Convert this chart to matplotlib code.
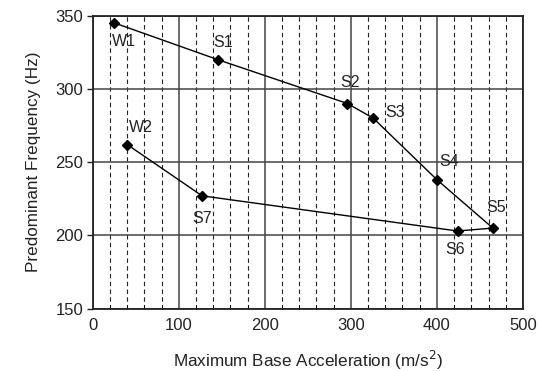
import matplotlib.pyplot as plt
from matplotlib.ticker import MultipleLocator

plt.rcParams['font.family'] = ['Liberation Sans', 'DejaVu Sans']

# Test points in path order
labels = ['W1', 'S1', 'S2', 'S3', 'S4', 'S5', 'S6', 'S7', 'W2']
accel = [25, 145, 296, 326, 400, 465, 424, 127, 40]
freq = [345, 320, 290, 280, 238, 205, 203, 227, 262]
# label offsets in points
offsets = [(7, -13.5), (4, 12.5), (2, 15), (16, 4), (9, 13), (2, 15), (-2, -13), (0, -16), (10, 12)]

fig = plt.figure(figsize=(5.38, 3.71), dpi=100)
ax = fig.add_axes([0.1725, 0.168, 0.7995, 0.790])

ax.set_xlim(0, 500)
ax.set_ylim(150, 350)
ax.xaxis.set_major_locator(MultipleLocator(100))
ax.xaxis.set_minor_locator(MultipleLocator(20))
ax.yaxis.set_major_locator(MultipleLocator(50))

ax.grid(which='major', color='#444444', linestyle='-', linewidth=1.1)
ax.grid(which='minor', axis='x', color='#222222', linestyle=(0, (4, 3)), linewidth=0.8)
ax.set_axisbelow(True)

ax.plot(accel, freq, color='black', linewidth=1.0, marker='D', markersize=5.5, zorder=3)

for name, x, y, off in zip(labels, accel, freq, offsets):
    ax.annotate(name, (x, y), xytext=off, textcoords='offset points',
                ha='center', va='center', fontsize=11.5, color='#222222')

ax.tick_params(axis='both', which='major', labelsize=12, width=1, colors='#222222')
ax.tick_params(axis='y', which='major', direction='out', length=4.5, pad=2.5)
ax.tick_params(axis='x', which='major', direction='in', length=0, pad=7)
ax.tick_params(axis='x', which='minor', direction='in', length=3)
for s in ax.spines.values():
    s.set_linewidth(1.3)
    s.set_color('#222222')

ax.set_xlabel('Maximum Base Acceleration (m/s$^2$)', fontsize=12.3, labelpad=11, color='#222222')
ax.set_ylabel('Predominant Frequency (Hz)', fontsize=12.3, labelpad=10, color='#222222')

fig.savefig('out.png', dpi=100)
